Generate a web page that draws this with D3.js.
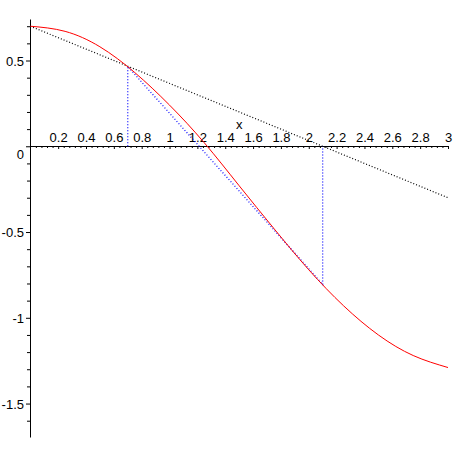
<!DOCTYPE html>
<html>
<head>
<meta charset="utf-8">
<script src="https://cdn.jsdelivr.net/npm/d3@7"></script>
<style>
  body { margin: 0; background: #fff; }
  text { font-family: "Liberation Sans", Arial, sans-serif; font-size: 13px; fill: #000; }
</style>
</head>
<body>
<div id="chart-area"></div>
<script>
// curve
var curveX = [0, 0.25, 0.5, 0.75, 1.0, 1.25, 1.5, 1.75, 2.0, 2.25, 2.5, 2.75, 3.0];
var curveY = [0.70, 0.67, 0.58, 0.43, 0.24, 0.02, -0.23, -0.48, -0.72, -0.93, -1.10, -1.22, -1.29];

// black dotted secant
var blackX = [0, 3];
var blackY = [0.70, -0.30];

// blue dotted: vertical, secant, vertical
var blueX = [0.7, 0.7, 2.1, 2.1];
var blueY = [0, 0.465, -0.805, 0];

var xTicks = [0.2, 0.4, 0.6, 0.8, 1, 1.2, 1.4, 1.6, 1.8, 2, 2.2, 2.4, 2.6, 2.8, 3];
var xTickLabels = ["0.2", "0.4", "0.6", "0.8", "1", "1.2", "1.4", "1.6", "1.8", "2", "2.2", "2.4", "2.6", "2.8", "3"];
var yTicks = [0.5, 0, -0.5, -1, -1.5];
var yTickLabels = ["0.5", "0", "-0.5", "-1", "-1.5"];

const width = 456;
const height = 456;

const svg = d3.select("#chart-area")
    .append("svg")
    .attr("width", width)
    .attr("height", height);

const x = d3.scaleLinear().domain([0, 3]).range([30.3, 448]);
const y = d3.scaleLinear().domain([-1.695, 0.742]).range([437, 19]);

const x0 = Math.round(x(0));
const y0 = Math.round(y(0));

/** Axes */
var xMinor = d3.range(1, 76).map((i) => i * 0.04).filter((v) => Math.abs(v * 5 - Math.round(v * 5)) > 1e-6);
var yMinor = d3.range(-16, 8).map((i) => i / 10).filter((v) => Math.abs(v * 2 - Math.round(v * 2)) > 1e-6);

svg.append("g")
    .attr("transform", "translate(0, " + y0 + ")")
    .call(d3.axisBottom(x).tickValues(xMinor).tickSize(2).tickSizeOuter(0).tickFormat(""));

svg.append("g")
    .attr("class", "bottom axis")
    .attr("transform", "translate(0, " + y0 + ")")
    .call(d3.axisBottom(x).tickValues(xTicks).tickSize(3).tickSizeOuter(0)
        .tickFormat((d, i) => xTickLabels[i]))
    .call((g) => g.select(".domain").remove())
    .selectAll("text")
    .attr("y", -4.5)
    .attr("dy", 0)
    .attr("font-size", null)
    .attr("font-family", null);

svg.append("g")
    .attr("transform", "translate(" + x0 + ", 0)")
    .call(d3.axisLeft(y).tickValues(yMinor).tickSize(3).tickSizeOuter(0).tickFormat(""));

svg.append("g")
    .attr("class", "left axis")
    .attr("transform", "translate(" + x0 + ", 0)")
    .call(d3.axisLeft(y).tickValues(yTicks).tickSize(4).tickSizeOuter(0)
        .tickFormat((d, i) => yTickLabels[i]))
    .call((g) => g.select(".domain").remove())
    .selectAll("text")
    .attr("x", -6)
    .attr("dy", (d) => d === 0 ? "0.95em" : "0.36em")
    .attr("font-size", null)
    .attr("font-family", null);

svg.selectAll(".domain").attr("stroke", "#000");
svg.selectAll(".tick line").attr("stroke", "#000");

svg.append("text")
    .attr("x", x(1.5))
    .attr("y", 128.5)
    .attr("text-anchor", "middle")
    .text("x");

/** Lines */
const line = d3.line().x((d) => x(d[0])).y((d) => y(d[1]));

svg.append("path")
    .datum(d3.zip(blackX, blackY))
    .attr("d", line)
    .attr("fill", "none")
    .attr("stroke", "#000")
    .attr("stroke-width", 1.2)
    .attr("stroke-dasharray", "1,2");

svg.append("path")
    .datum(d3.zip(blueX, blueY))
    .attr("d", line)
    .attr("fill", "none")
    .attr("stroke", "#0000ff")
    .attr("stroke-width", 1.2)
    .attr("stroke-dasharray", "1,2");

svg.append("path")
    .datum(d3.zip(curveX, curveY))
    .attr("d", line.curve(d3.curveNatural))
    .attr("fill", "none")
    .attr("stroke", "#ff0000")
    .attr("stroke-width", 1);
</script>
</body>
</html>
